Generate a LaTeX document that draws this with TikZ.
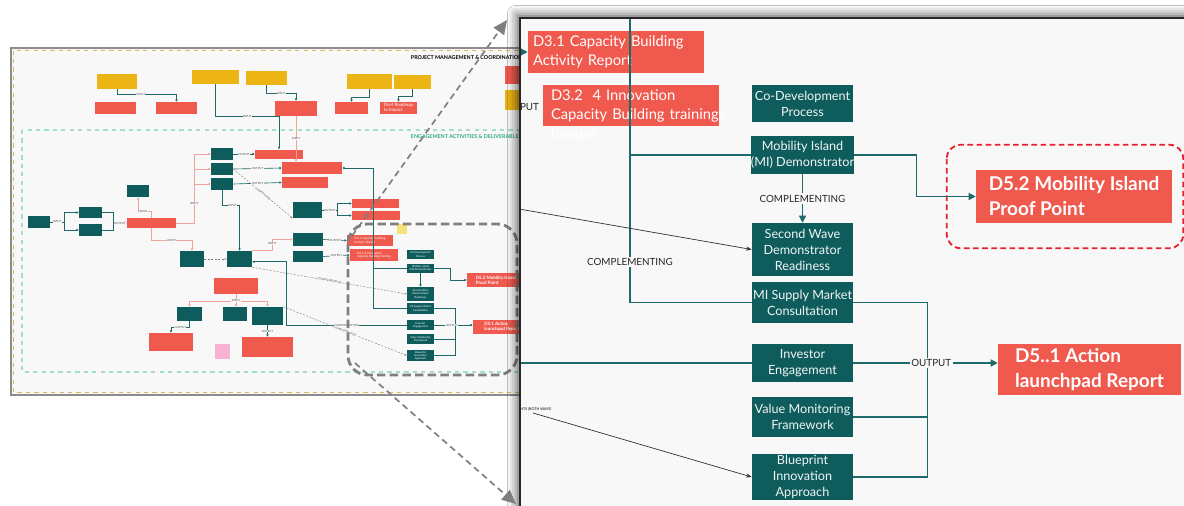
\documentclass[tikz,border=0pt]{standalone}
\usepackage{fontspec}
\setmainfont{Lato}
\usetikzlibrary{arrows.meta,positioning,calc,shadows.blur}
\definecolor{tealbox}{HTML}{0F5C5C}
\definecolor{redbox}{HTML}{F0594E}
\definecolor{goldbox}{HTML}{EDB416}
\definecolor{pinkbox}{HTML}{F7B3CF}
\definecolor{notebox}{HTML}{F6E27A}
\definecolor{wireteal}{HTML}{1E6A6A}
\definecolor{pinkwire}{HTML}{F4A39C}
\definecolor{paper}{HTML}{F8F8F8}
\definecolor{zoneline}{HTML}{A6DCCB}
\definecolor{zonetitle}{HTML}{2BA88A}
\definecolor{framegray}{HTML}{8C8C8C}
\definecolor{frametan}{HTML}{D9B860}
\definecolor{hilite}{HTML}{7F7F7F}
\definecolor{alertred}{HTML}{E8202E}
\newcommand\pxu{0.025cm}
\tikzset{act/.style={fill=tealbox,text=white!94!tealbox,font=\fontsize{9}{11.4}\selectfont,align=center,minimum width=101*\pxu,inner xsep=0pt,inner ysep=1pt},
dlv/.style={fill=redbox,text=white,font=\fontsize{10.5}{13.5}\selectfont,align=left},
keydlv/.style={fill=redbox,text=white,font=\bfseries\fontsize{13.5}{17.8}\selectfont,align=left,inner xsep=0pt},
wire/.style={draw=wireteal,line width=.9pt},wtip/.style={wire,-{Triangle[length=5pt,width=5pt]}},
trunk/.style={draw=wireteal,line width=1.3pt},
tag/.style={font=\fontsize{7}{8}\selectfont,fill=paper,inner sep=1.2pt,text=black!85},
thinarr/.style={draw=black!80,line width=.5pt,-{Stealth[length=4pt]}}}
\begin{document}
\begin{tikzpicture}[x=\pxu,y=-\pxu,
ovb/.style 2 args={minimum width=#1*\pxu,minimum height=#2*\pxu,inner sep=0pt,font=\fontsize{2.2}{2.6}\selectfont,align=center,text=white},
ovt/.style={fill=tealbox},ovr/.style={fill=redbox},ovy/.style={fill=goldbox},
ovw/.style={draw=wireteal,line width=.45pt},ovp/.style={draw=pinkwire,line width=.45pt},
ovtip/.style={-{Triangle[length=1.6pt,width=1.6pt]}},
ovd/.style={draw=black!50,line width=.3pt,dash pattern=on 1.5pt off 1pt,-{Stealth[length=1.6pt]}},
ovlab/.style={font=\fontsize{2}{2.4}\selectfont,fill=paper,inner sep=.3pt,text=black!70},
zoomarr/.style={draw=hilite,line width=1.2pt,dash pattern=on 4.5pt off 3pt,-{Triangle[length=10pt,width=9pt]}}]
\useasboundingbox[fill=white] (0,0) rectangle (1184,506);
% overview
\fill[paper] (11,48) rectangle (540,395);
\draw[frametan,line width=.5pt,dashed] (13.5,50.5) rectangle (540,392.5);
\draw[framegray,line width=1.2pt] (11,48) rectangle (540,395);
\draw[zoneline,dashed,line width=.8pt] (22,130) rectangle (540,372);
\node[anchor=west,font=\bfseries\fontsize{3.8}{4.4}\selectfont] (pmtitle) at (406,58) {PROJECT MANAGEMENT \& COORDINATION};
\node[anchor=west,font=\bfseries\fontsize{3.8}{4.4}\selectfont,text=zonetitle] (eatitle) at (406,137) {ENGAGEMENT ACTIVITIES \& DELIVERABLES};
\node[ovy,ovb={40}{15}] (y1) at (117,81.5) {};\node[ovr,ovb={41}{12}] (r1) at (115.5,108) {};
\node[ovr,ovb={41}{12}] (r2) at (176.5,108) {};\node[ovy,ovb={47}{14}] (y2) at (215.5,77) {};
\node[ovy,ovb={41}{14}] (y3) at (266.5,78) {};\node[ovr,ovb={42}{15}] (r3) at (296,108.5) {};
\node[ovy,ovb={45}{15}] (y4) at (369.5,81.5) {};\node[ovr,ovb={33}{12}] (r4) at (351.5,108) {};
\node[ovy,ovb={37}{14}] (y5) at (412.5,82) {};
\node[ovr,ovb={37}{12},font=\fontsize{3.2}{3.6}\selectfont,align=left] (r5) at (398.5,108) {D6.4 Roadmap\\to Impact};
\node[ovr,ovb={30}{18}] (r6) at (520,75) {};\node[ovy,ovb={30}{20}] (y6) at (520,100) {};
\node[ovt,ovb={22}{12}] (t1) at (222,154) {};\node[ovt,ovb={22}{12}] (t2) at (222,169) {};
\node[ovt,ovb={22}{12}] (t3) at (222,184) {};\node[ovr,ovb={48}{9}] (r7) at (279,154) {};
\node[ovr,ovb={60}{12}] (r8) at (312,168) {};\node[ovr,ovb={46}{11}] (r9) at (305,182.5) {};
\node[ovt,ovb={22}{12}] (t4) at (138,191) {};\node[ovr,ovb={49}{10}] (r10) at (151.5,223) {};
\node[ovt,ovb={22}{12}] (t5) at (39,222) {};\node[ovt,ovb={23}{11}] (t6) at (90.5,212.5) {};
\node[ovt,ovb={23}{12}] (t7) at (90.5,230) {};\node[ovt,ovb={24}{16}] (t8) at (192,259) {};
\node[ovt,ovb={25}{16}] (t9) at (239.5,259) {};\node[ovr,ovb={44}{16}] (r11) at (236,286) {};
\node[ovt,ovb={25}{14}] (t10) at (189.5,314) {};\node[ovt,ovb={24}{14}] (t11) at (235,314) {};
\node[ovt,ovb={31}{18}] (t12) at (267.5,316) {};\node[ovr,ovb={44}{18}] (r12) at (171,342) {};
\node[fill=pinkbox,ovb={15}{15}] (p1) at (222.5,351.5) {};\node[ovr,ovb={51}{20}] (r13) at (267.5,347) {};
\node[ovt,ovb={29}{16}] (t13) at (307.5,210) {};\node[ovr,ovb={47}{9}] (r14) at (375.5,203.5) {};
\node[ovr,ovb={48}{9}] (r15) at (376,215.5) {};\node[ovt,ovb={30}{13}] (t14) at (308,239.5) {};
\node[ovt,ovb={30}{11}] (t15) at (308,256.5) {};
\node[ovr,ovb={46}{11},align=left] (r16) at (370,240.5) {D3.1 Capacity Building\\Activity Report};
\node[ovr,ovb={48}{12},align=left] (r17) at (374,255) {D3.2 4 Innovation\\capacity building training};
\foreach \nm/\yy/\hh/\tx in {ocodev/254.5/9/{Co-Development\\Process},omi/268.5/9/{Mobility Island\\(MI) Demonstrator},owave/294/14/{Second Wave\\Demonstrator\\Readiness},osupply/308.5/11/{MI Supply Market\\Consultation},oinvest/325/10/{Investor\\Engagement},ovalue/339/10/{Value Monitoring\\Framework},oblue/355.5/11/{Blueprint\\Innovation\\Approach}}{\node[ovt,ovb={27}{\hh},font=\fontsize{1.9}{2.3}\selectfont] (\nm) at (420.5,\yy) {\tx};}
\node[ovr,ovb={58}{14},font=\bfseries\fontsize{3.2}{3.7}\selectfont,align=left] (r18) at (496,280) {D5.2 Mobility Island\\Proof Point};
\node[ovr,ovb={58}{14},font=\bfseries\fontsize{3.2}{3.7}\selectfont,align=left] (r19) at (502,326.5) {D5.1 Action\\launchpad Report};
\draw[ovw,ovtip] (y1.south) -- ++(0,5) -| node[ovlab,pos=.2]{INPUT} (r2.north);
\draw[ovw] (y2.south) |- node[ovlab,pos=.75]{INPUT} (r7.north |- r3.south);
\draw[ovw,ovtip,line width=.7pt] (r7.north |- r3.south) -- (r7.north);
\draw[ovw,ovtip] (y3.south) -- ++(0,8) -| node[ovlab,pos=.25]{INPUT} (r3.north);
\draw[ovw,ovtip] (y4.south) -- ++(0,8) -| (r4.north);\draw[ovw,ovtip] (y5.south) -- ++(0,7) -| (r5.north);
\draw[ovp,ovtip] (r3.south) -- node[ovlab]{INPUT} (r3.south |- r8.north);
\draw[ovw,ovtip] (t1.east) -- node[ovlab]{OUTPUT} (r7.west);\draw[ovw,ovtip] (t2.east) -- node[ovlab]{OUTPUT} (r8.west);
\draw[ovw,ovtip] (t3.east) -- node[ovlab]{OUTPUT} (r9.west);
\draw[ovp,ovtip] (r10.east) -- ++(18,0) |- (t1.west);\draw[ovp,ovtip] (r10.east) ++(18,0) |- (t2.west);
\draw[ovp,ovtip] (r10.east) ++(18,0) |- node[ovlab,pos=.25]{INPUT} (t3.west);
\draw[ovp,ovtip] (r10.north) -- ++(0,-6) -| node[ovlab,pos=.3]{INPUT} (t4.south);
\draw[ovw,ovtip] (t5.east) -- node[ovlab]{INPUT} ++(14,0) |- (t6.west);\draw[ovw,ovtip] (t5.east) ++(14,0) |- (t7.west);
\coordinate (mg) at (113,223);
\draw[ovw] (t6.east) -| (mg);\draw[ovw] (t7.east) -| (mg);\draw[ovw,ovtip] (mg) -- node[ovlab]{OUTPUT} (r10.west);
\draw[ovp,ovtip] (r10.south) -- ++(0,12) -| node[ovlab,pos=.25]{INPUT} (t8.north);
\draw[ovd] (t8.east) -- (t9.west);
\draw[ovw,ovtip] (t3.south) -- ++(0,15) -| node[ovlab,pos=.3]{INPUT} (t9.north);
\draw[ovp,ovtip] (r11.south) -- ++(0,7) -| (t10.north);\draw[ovp,ovtip] (r11.south) -- ++(0,7) -| (t12.north);
\draw[ovp,ovtip] (r11.south) -- node[ovlab]{INPUT} (r11.south |- t11.north);
\draw[ovw,ovtip] (t10.south) -- ++(0,6) -| node[ovlab,pos=.25]{OUTPUT} (r12.north);
\draw[ovw,ovtip] (t12.south) -- node[ovlab]{OUTPUT} (r13.north);
\draw[ovw,ovtip] (t13.east) -- node[ovlab]{OUTPUT} ++(15,0) |- (r14.west);\draw[ovw,ovtip] (t13.east) ++(15,0) |- (r15.west);
\draw[ovw,ovtip] (t14.east) -- node[ovlab]{OUTPUT} (r16.west);\draw[ovw,ovtip] (t15.east) -- node[ovlab]{OUTPUT} (r17.west);
\draw[ovp,ovtip] (t9.north east) -- ++(20,0) |- node[ovlab,pos=.3]{INPUT} (t14.west);
\draw[ovw,ovtip] (oinvest.west) -- node[ovlab]{COMPLEMENTING} ++(-120,0) |- ([yshift=-2pt]t9.east);
\draw[ovd] (t2.east) -- node[ovlab,sloped]{complementing} (t13.south west);
\draw[ovd] (t9.south east) -- node[ovlab,sloped]{COMPLEMENTING} (owave.west);
\draw[ovd] (t12.north east) -- node[ovlab,sloped]{COMPLEMENTING} (oblue.west);
\draw[ovw,ovtip,line width=.6pt] (osupply.west) -- ++(-33,0) |- (r8.east);\draw[ovw,line width=.6pt] (omi.west) -- ++(-33,0);
\draw[ovw,ovtip] (omi.south) -- (owave.north);
\draw[ovw,ovtip] (omi.east) -- ++(16,0) |- (r18.west);
\draw[ovw] (osupply.east) -- ++(21,0) |- (oblue.east);\draw[ovw] (ovalue.east) -- ++(21,0);
\draw[ovw,ovtip] (oinvest.east) -- node[ovlab,pos=.45]{OUTPUT} (r19.west |- oinvest.east);
\node[fill=notebox,minimum size=10*\pxu,inner sep=0pt] (sticky) at (402,228.5) {};
\draw[hilite,line width=2pt,dash pattern=on 6pt off 3pt,rounded corners=14pt] (348,224) rectangle (517,375);
% zoomed panel
\fill[paper,blur shadow={shadow xshift=-3pt,shadow yshift=3pt,shadow blur radius=6pt,shadow opacity=55}] (520,18) rectangle (1200,520);
\begin{scope}
\clip (520,18) rectangle (1200,520);
\coordinate (ptop) at (630,18);\coordinate (lin1) at (519,52);\coordinate (lin2) at (519,209);
\coordinate (lin3) at (519,363);\coordinate (lin4) at (533,413);
\node[dlv,minimum width=176*\pxu,minimum height=42*\pxu,text width=166*\pxu,inner xsep=5*\pxu] (d31) at (616,52) {D3.1 Capacity Building\\Activity Report};
\node[dlv,minimum width=176*\pxu,minimum height=41*\pxu,text width=160*\pxu,inner xsep=8*\pxu] (d32) at (631,105.5) {D3.2\ \ 4 Innovation\\\makebox[4cm][l]{Capacity Building trainings}};
\node[font=\fontsize{10.5}{13.5}\selectfont,text=white,anchor=north west,inner xsep=8*\pxu,inner ysep=1pt] (d32tail) at (d32.south west) {hosted};
\node[act,minimum height=37*\pxu] (codev) at (802.5,103.5) {Co-Development\\Process};
\node[act,minimum height=38*\pxu] (mi) at (802.5,155) {Mobility Island\\(MI) Demonstrator};
\node[act,minimum height=53*\pxu] (wave) at (802.5,249.5) {Second Wave\\Demonstrator\\Readiness};
\node[act,minimum height=41*\pxu] (supply) at (802.5,302.5) {MI Supply Market\\Consultation};
\node[act,minimum height=38*\pxu] (investor) at (802.5,363) {Investor\\Engagement};
\node[act,minimum height=40*\pxu] (value) at (802.5,417) {Value Monitoring\\Framework};
\node[act,minimum height=40*\pxu] (blueprint) at (802.5,477) {Blueprint\\Innovation\\Approach};
\node[keydlv,minimum width=196*\pxu,minimum height=53*\pxu] (d52) at (1074,196.5) {D5.2 Mobility Island\\Proof Point};
\node[keydlv,minimum width=183*\pxu,minimum height=51*\pxu] (d51) at (1089.5,369.5) {D5..1 Action\\launchpad Report};
\draw[alertred,line width=1.3pt,dash pattern=on 4pt off 2.5pt,rounded corners=10pt] ($(d52.north west)+(-29,-25)$) rectangle ($(d52.south east)+(11,25)$);
\draw[trunk] (ptop) |- (supply.west);\draw[trunk] (ptop |- mi.west) -- (mi.west);
\node[tag] (cmpl) at (ptop |- 0,262) {COMPLEMENTING};
\draw[wtip] (mi.south) -- node[tag]{COMPLEMENTING} (wave.north);
\draw[wtip] (mi.east) -- ++(62,0) |- (d52.west);
\draw[wire] (supply.east) -- ++(74,0) |- (blueprint.east);\draw[wire] (value.east) -- ++(74,0);
\draw[wtip] (investor.east) -- node[tag,pos=.54]{OUTPUT} (d51.west |- investor.east);
\draw[wtip] (lin1) -- (d31.west);\draw[wire] (lin3) -- (investor.west);
\node[tag,anchor=east,fill=none] (inlab) at (541,107) {INPUT};
\draw[thinarr] (lin2) -- (wave.west);\draw[thinarr] (lin4) -- (blueprint.west);
\node[font=\fontsize{2.6}{3}\selectfont,anchor=west,inner sep=0pt] (lin4txt) at (518,409) {ENTS (BOTH WAYS)};
\end{scope}
\draw[black!85,line width=1.1pt] (520,18) rectangle (1200,520);
\coordinate (zoomtl) at (352,236);\coordinate (zoombl) at (355,363);
\coordinate (paneltip1) at (507,20);\coordinate (paneltip2) at (516,504);
\draw[zoomarr] (zoomtl) -- (paneltip1);\draw[zoomarr] (zoombl) -- (paneltip2);
\end{tikzpicture}
\end{document}
